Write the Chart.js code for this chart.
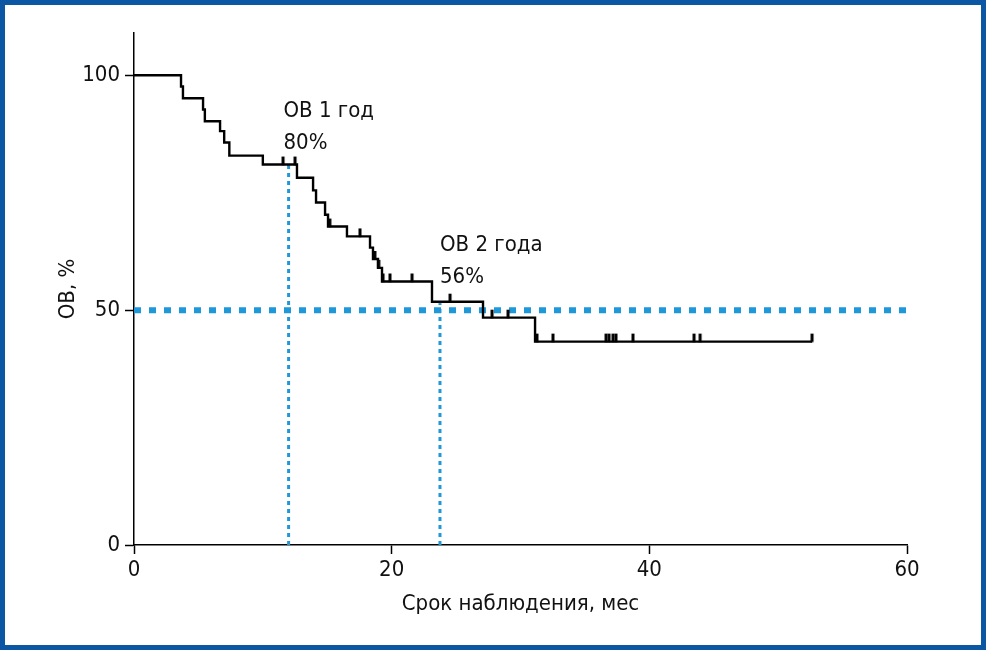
<!DOCTYPE html>
<html>
<head>
<meta charset="utf-8">
<script src="https://cdn.jsdelivr.net/npm/chart.js@4/dist/chart.umd.min.js"></script>
<style>
  body { margin: 0; background: #fff; }
  #frame { width: 986px; height: 650px; box-sizing: border-box; border: 5px solid #0b57a4; background: #fff; }
  #wrap { width: 976px; height: 640px; position: relative; }
</style>
</head>
<body>
<div id="frame"><div id="wrap"><canvas id="chart"></canvas></div></div>
<script>
// Kaplan-Meier curve: event times (months) and survival (%)
const kmTimes = [0, 3.65, 3.8, 5.36, 5.5, 6.68, 7.0, 7.4, 10.0, 12.65, 13.9, 14.13, 14.83, 15.06, 16.53, 18.32, 18.55, 18.94, 19.25, 23.13, 27.09, 31.13, 52.63];
const kmSurv  = [100, 97.6, 95.1, 92.7, 90.2, 88.1, 85.7, 82.9, 81.0, 78.2, 75.5, 72.9, 70.3, 67.8, 65.7, 63.3, 60.9, 59.0, 56.1, 51.8, 48.4, 43.3, 43.3];

// censored observations
const censorTimes = [11.57, 12.5, 15.2, 17.54, 18.7, 19.0, 19.33, 19.87, 21.58, 24.53, 27.79, 29.03, 31.28, 32.52, 36.64, 36.87, 37.18, 37.41, 38.73, 43.47, 43.94, 52.63];
const censorSurv  = [81.0, 81.0, 67.8, 65.7, 60.9, 59.0, 56.1, 56.1, 56.1, 51.8, 48.4, 48.4, 43.3, 43.3, 43.3, 43.3, 43.3, 43.3, 43.3, 43.3, 43.3, 43.3];

// median line and landmark lines
const medianLevel = 50;
const landmarkTimes = [12, 23.75];
const landmarkSurv = [81.0, 51.5];
const landmarkLabels = [["ОВ 1 год", "80%"], ["ОВ 2 года", "56%"]];
const labelPos = [[11.6, 92.3], [23.75, 63.8]];

const xTicks = [0, 20, 40, 60];
const yTicks = [0, 50, 100];

const FONT = "'Liberation Sans Narrow', 'DejaVu Sans Condensed', Roboto, sans-serif";
const BLUE = "#1e98d8";

// censor mark: short vertical stroke standing on the line
const tickImg = document.createElement("canvas");
tickImg.width = 6; tickImg.height = 18;
const tctx = tickImg.getContext("2d");
tctx.fillStyle = "#000";
tctx.fillRect(1.5, 1, 3, 8.5);

const kmData = kmTimes.map((t, i) => ({ x: t, y: kmSurv[i] }));
const censorData = censorTimes.map((t, i) => ({ x: t, y: censorSurv[i] }));

const datasets = [
  {
    data: kmData, showLine: true, stepped: true, borderColor: "#000", borderWidth: 2.4,
    pointRadius: 0, order: 1
  },
  {
    data: censorData, showLine: false, pointStyle: tickImg, pointRadius: 5, order: 0
  },
  {
    data: [{ x: 0, y: medianLevel }, { x: 60, y: medianLevel }], showLine: true,
    borderColor: BLUE, borderWidth: 6, borderDash: [7, 8], pointRadius: 0, order: 3
  }
];
landmarkTimes.forEach((t, i) => {
  datasets.push({
    data: [{ x: t, y: 0 }, { x: t, y: landmarkSurv[i] }], showLine: true,
    borderColor: BLUE, borderWidth: 3, borderDash: [4, 4], pointRadius: 0, order: 3
  });
});

const labelPlugin = {
  id: "labels",
  afterDatasetsDraw(chart) {
    const { ctx, scales: { x, y } } = chart;
    ctx.save();
    ctx.fillStyle = "#111";
    ctx.font = "22px " + FONT;
    ctx.textAlign = "left";
    ctx.textBaseline = "middle";
    landmarkLabels.forEach((lines, i) => {
      const px = x.getPixelForValue(labelPos[i][0]);
      const py = y.getPixelForValue(labelPos[i][1]);
      lines.forEach((s, j) => ctx.fillText(s, px, py + j * 32));
    });
    ctx.restore();
  }
};

new Chart(document.getElementById("chart"), {
  type: "scatter",
  data: { datasets: datasets },
  plugins: [labelPlugin],
  options: {
    responsive: true,
    maintainAspectRatio: false,
    animation: false,
    layout: { padding: { left: 0, right: 74, top: 28, bottom: 25 } },
    plugins: { legend: { display: false }, tooltip: { enabled: false } },
    scales: {
      x: {
        type: "linear", min: 0, max: 60,
        afterBuildTicks: (s) => { s.ticks = xTicks.map(v => ({ value: v })); },
        afterFit: (s) => { s.height = 75; },
        grid: { drawOnChartArea: false, drawTicks: true, tickLength: 9, color: "#000", tickWidth: 1.5 },
        border: { display: true, color: "#000", width: 1.5 },
        ticks: { color: "#111", font: { family: FONT, size: 22 }, padding: 3 },
        title: { display: true, text: "Срок наблюдения, мес", color: "#111", font: { family: FONT, size: 22 }, padding: { top: 0, bottom: 3 } }
      },
      y: {
        type: "linear", min: 0, max: 109,
        afterBuildTicks: (s) => { s.ticks = yTicks.map(v => ({ value: v })); },
        afterFit: (s) => { s.width = 129; },
        grid: { drawOnChartArea: false, drawTicks: true, tickLength: 9, color: "#000", tickWidth: 1.5 },
        border: { display: true, color: "#000", width: 1.5 },
        ticks: { color: "#111", font: { family: FONT, size: 22 }, padding: 5 },
        title: { display: true, text: "ОВ, %", color: "#111", font: { family: FONT, size: 22 }, padding: { top: 50, bottom: 0 } }
      }
    }
  }
});
</script>
</body>
</html>
